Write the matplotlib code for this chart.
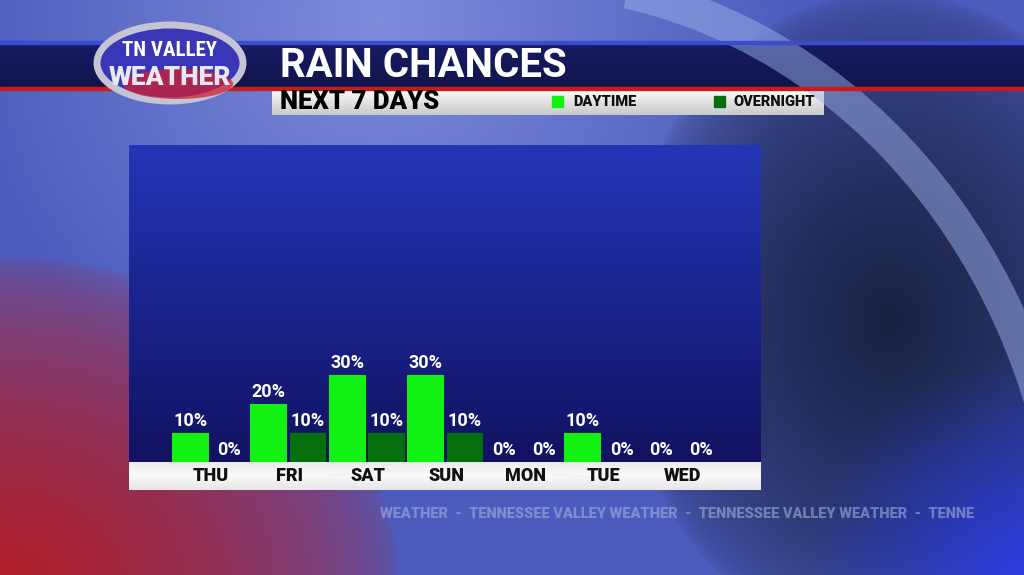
import matplotlib.pyplot as plt
import matplotlib.patches as mpatches
import numpy as np

# data
days = ['THU', 'FRI', 'SAT', 'SUN', 'MON', 'TUE', 'WED']
daytime = [10, 20, 30, 30, 0, 10, 0]
overnight = [0, 10, 10, 10, 0, 0, 0]

title = 'RAIN CHANCES'
subtitle = 'NEXT 7 DAYS'
day_color = '#12f212'
night_color = '#03700b'

W, H = 1024, 575
fig = plt.figure(figsize=(W / 100, H / 100), dpi=100)

# ---- background (broadcast style backdrop) ----
bg = fig.add_axes([0, 0, 1, 1])
xx = np.tile(np.linspace(0, W, W), (H, 1))
yy = np.tile(np.linspace(0, H, H)[:, None], (1, W))


def blend(img, mask, col, k):
    m = (k * mask)[..., None]
    return img * (1 - m) + np.array(col) * m


img = np.ones((H, W, 3)) * np.array([0.30, 0.36, 0.74])
haze = np.clip(1 - np.hypot(xx - 380, yy - 20) / 420, 0, 1)
img = blend(img, haze, [0.62, 0.68, 0.93], 0.6)
dark = np.clip(1 - np.hypot((xx - 890) * 0.85, (yy - 320) * 0.7) / 230, 0, 1) ** 0.5
img = blend(img, dark, [0.08, 0.11, 0.22], 0.92)
red = np.clip(1 - np.hypot((xx - 0) * 0.75, (yy - 590) * 0.9) / 300, 0, 1) ** 0.5
img = blend(img, red, [0.72, 0.10, 0.12], 0.95)
br = np.clip(1 - np.hypot(xx - 1024, yy - 575) / 220, 0, 1)
img = blend(img, br, [0.15, 0.22, 0.92], 0.85)
bg.imshow(np.clip(img, 0, 1), extent=[0, W, H, 0], aspect='auto')
bg.set_xlim(0, W)
bg.set_ylim(H, 0)
bg.axis('off')

# sweeping arcs (y axis is inverted, so angles run clockwise)
bg.add_patch(mpatches.Arc((520, 600), 1100, 1240, theta1=280, theta2=360,
                          color='#9cb0e8', lw=24, alpha=0.5))
bg.add_patch(mpatches.Arc((450, 560), 720, 180, theta1=215, theta2=330,
                          color='#eeeeff', lw=1.5, alpha=0.6))

# header band
band = np.linspace(0, 1, 46)[:, None, None]
band_img = np.ones((46, W, 3)) * np.array([0.09, 0.11, 0.40])
band_img = band_img * (1 - 0.45 * band) + np.array([0.04, 0.04, 0.16]) * 0.45 * band
bg.imshow(band_img, extent=[0, W, 88, 42], aspect='auto')
bg.add_patch(mpatches.Rectangle((0, 41), W, 3, color='#3c4cd0'))
bg.add_patch(mpatches.Rectangle((0, 87), W, 3, color='#c81c1c'))

# subtitle bar
sub = np.linspace(0, 1, 26)[:, None, None]
sub_img = np.ones((26, 552, 3)) * (0.99 - 0.2 * sub)
bg.imshow(sub_img, extent=[272, 824, 115, 89], aspect='auto')

# logo
bg.add_patch(mpatches.Ellipse((170, 63), 146, 76, facecolor='#3a36b8',
                              edgecolor='#c4c4d4', lw=5))
bg.add_patch(mpatches.Ellipse((178, 84), 110, 30, facecolor='#d02030',
                              edgecolor='none', alpha=0.75))
bg.text(170, 51, 'TN VALLEY', color='white', fontsize=15, fontweight='black',
        family='Roboto Condensed', ha='center', va='center')
bg.text(170, 78, 'WEATHER', color='#e8e8f0', fontsize=19, fontweight='black',
        family='Roboto', ha='center', va='center')

# titles
bg.text(280, 66, title, color='white', fontsize=29, fontweight='bold',
        family='Roboto', ha='left', va='center')
bg.text(280, 102, subtitle, color='black', fontsize=18.5, fontweight='black',
        family='Roboto', ha='left', va='center')

# legend
bg.add_patch(mpatches.Rectangle((552, 96), 11, 11, color=day_color))
bg.text(573, 102, 'DAYTIME', color='#111111', fontsize=10.5, fontweight='black',
        family='Roboto', ha='left', va='center')
bg.add_patch(mpatches.Rectangle((714, 96), 11, 11, color=night_color))
bg.text(734, 102, 'OVERNIGHT', color='#111111', fontsize=10.5, fontweight='black',
        family='Roboto', ha='left', va='center')

# white strip below the chart
strip = np.linspace(0, 1, 28)[:, None, None]
strip_img = np.ones((28, 632, 3)) * (0.98 - 0.14 * np.abs(strip - 0.45))
bg.imshow(strip_img, extent=[129, 761, 490, 462], aspect='auto')

# watermark
bg.text(380, 514, 'WEATHER  -  TENNESSEE VALLEY WEATHER  -  TENNESSEE VALLEY WEATHER  -  TENNE',
        color='#aab6e2', alpha=0.55, fontsize=10.5, fontweight='black',
        family='Roboto', ha='left', va='center')

# ---- chart panel ----
x0, x1, y0, y1 = 129, 761, 145, 462
ax = fig.add_axes([x0 / W, 1 - y1 / H, (x1 - x0) / W, (y1 - y0) / H])
grad = np.linspace(0, 1, 200)[:, None, None]
top_c = np.array([0.14, 0.21, 0.72])
bot_c = np.array([0.07, 0.07, 0.38])
panel = np.repeat(top_c * (1 - grad) + bot_c * grad, 2, axis=1)
ax.imshow(panel, extent=[-1.03, 7.02, 0, 109.3], aspect='auto', zorder=0)

x = np.arange(len(days))
bw = 0.47
b1 = ax.bar(x - 0.25, daytime, bw, color=day_color, zorder=2)
b2 = ax.bar(x + 0.25, overnight, bw, color=night_color, zorder=2)
for bars, vals in ((b1, daytime), (b2, overnight)):
    for b, v in zip(bars, vals):
        ax.text(b.get_x() + b.get_width() / 2, v + 1.0, f'{v}%',
                color='white', fontsize=13, fontweight='bold',
                family='Roboto', ha='center', va='bottom', zorder=3)

ax.set_xlim(-1.03, 7.02)
ax.set_ylim(0, 109.3)
ax.axis('off')

for i, d in enumerate(days):
    bg.text(211 + i * 78.5, 476, d, color='#111111', fontsize=13,
            fontweight='black', family='Roboto', ha='center', va='center')

fig.savefig('out.png', dpi=100)
